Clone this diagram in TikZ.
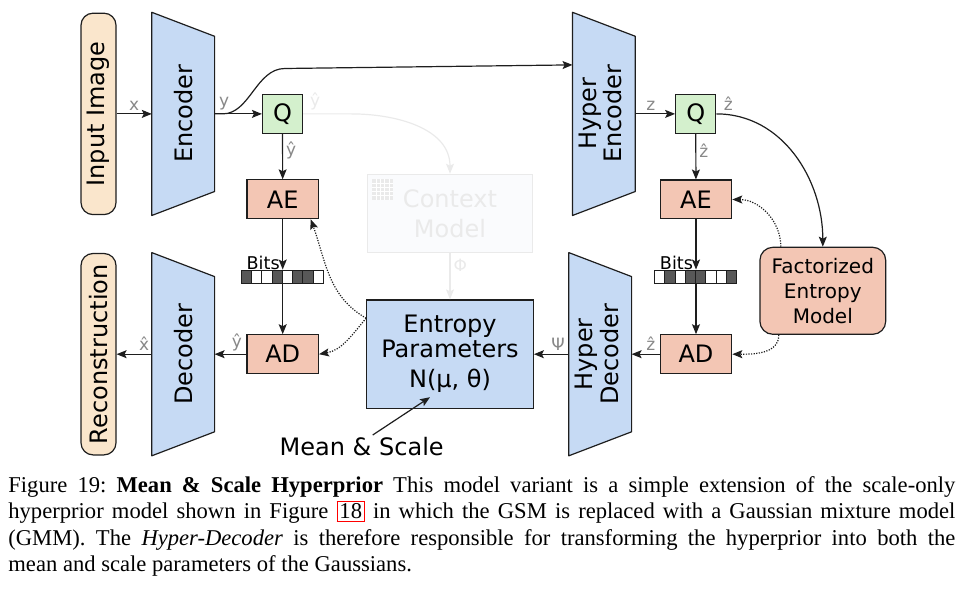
\documentclass[tikz,border=0pt]{standalone}
\usepackage{fontspec}
\setmainfont{Liberation Serif}
\newfontfamily\diagfont{DejaVu Sans}
\usepackage{graphicx}
\usepackage{tikz}
\usetikzlibrary{arrows.meta, positioning, calc, backgrounds}

\definecolor{peach1}{RGB}{250, 230, 204}
\definecolor{blue1}{RGB}{198, 218, 244}
\definecolor{green1}{RGB}{212, 240, 205}
\definecolor{salmon1}{RGB}{243, 198, 180}
\definecolor{gray1}{RGB}{136, 136, 136}
\definecolor{bitdark}{RGB}{88, 88, 88}
\definecolor{faint1}{RGB}{234, 234, 234}
\definecolor{faintfill}{RGB}{250, 251, 253}
\definecolor{edge1}{RGB}{30, 30, 30}

\tikzset{
  box/.style={draw=edge1, line width=0.6pt, inner sep=0pt, align=center},
  sidebox/.style={box, fill=peach1, rounded corners=6pt, minimum width=17.5pt, minimum height=100.7pt},
  trap/.style={inner sep=0pt, minimum width=31pt, minimum height=101.2pt, font=\diagfont\fontsize{12}{12.2}\selectfont},
  trapline/.style={draw=edge1, fill=blue1, line width=0.6pt, line join=round},
  qbox/.style={box, fill=green1, minimum width=20pt, minimum height=19.4pt},
  codebox/.style={box, fill=salmon1, minimum width=35.7pt, minimum height=19.4pt},
  bitbar/.style={inner sep=0pt, minimum width=41pt, minimum height=6.35pt},
  lbl/.style={text=gray1, font=\diagfont\fontsize{8.5}{9}\selectfont, inner sep=1.5pt},
  bitslbl/.style={font=\diagfont\fontsize{8.8}{9}\selectfont, inner sep=1.2pt, left, pos=0.86},
  arr/.style={-{Stealth[length=5pt, width=4pt, inset=1pt]}, line width=0.6pt, draw=edge1},
  dotarr/.style={arr, dash pattern=on 0.6pt off 0.7pt},
  faintarr/.style={-{Stealth[length=5pt, width=4pt, inset=1pt]}, line width=0.6pt, draw=faint1},
}

% blue trapezoid behind a named node
\newcommand{\trapbody}[1]{%
  \begin{pgfonlayer}{background}
    \draw[trapline] (#1.north west) -- ([yshift=-12pt]#1.north east)
      -- ([yshift=12pt]#1.south east) -- (#1.south west) -- cycle;
  \end{pgfonlayer}}

\begin{document}
\begin{tikzpicture}[x=0.5pt, y=0.5pt, font=\diagfont\fontsize{12}{12.5}\selectfont]
  \useasboundingbox (0,0) rectangle (967,-592);

  % main path
  \node[sidebox] (inimg) at (98.5,-113.9) {\rotatebox{90}{Input Image}};
  \node[trap] (enc) at (183.2,-113.9) {\rotatebox{90}{Encoder}};
  \trapbody{enc}
  \node[qbox] (q1) at (282.5,-113.9) {Q};
  \node[codebox] (ae1) at (282.7,-199.3) {AE};
  \node[bitbar] (bits1) at (282.7,-276.3) {};
  \node[codebox] (ad1) at (282.7,-354.2) {AD};
  \node[trap] (dec) at (183.2,-354.2) {\rotatebox{90}{Decoder}};
  \trapbody{dec}
  \node[sidebox] (recon) at (98.5,-354.2) {\rotatebox{90}{Reconstruction}};

  % context model (faded) and entropy parameters
  \node[box, draw=faint1, fill=faintfill, text=faint1, minimum width=82.7pt, minimum height=39pt,
        font=\diagfont\fontsize{12}{15}\selectfont] (ctx) at (450,-213.3) {Context\\Model};
  \fill[faint1] ([xshift=2.7pt, yshift=-2.85pt]ctx.north west) rectangle ++(10.6pt,-10.3pt);
  \foreach \k in {1,...,4} {
    \draw[white, line width=0.4pt] ([xshift=2.7pt+\k*2.12pt, yshift=-2.85pt]ctx.north west) -- ++(0pt,-10.3pt);
    \draw[white, line width=0.4pt] ([xshift=2.7pt, yshift=-2.85pt-\k*2.06pt]ctx.north west) -- ++(10.6pt,0pt);
  }
  \node[box, fill=blue1, minimum width=83.3pt, minimum height=54.2pt] (ep) at (450,-354.2)
    {Entropy\\Parameters\\[2.5pt]N(μ, θ)};
  \node[inner sep=1pt] (ms) at (361.7,-446.7) {Mean \& Scale};

  % hyperprior path
  \node[trap] (henc) at (603.9,-113.9) {\rotatebox{90}{\begin{tabular}{@{}c@{}}Hyper\\Encoder\end{tabular}}};
  \trapbody{henc}
  \node[qbox] (q2) at (695.7,-113.9) {Q};
  \node[codebox] (ae2) at (696,-199.5) {AE};
  \node[bitbar] (bits2) at (696,-276.3) {};
  \node[codebox] (ad2) at (696,-354.2) {AD};
  \node[trap] (hdec) at (600.2,-354.2) {\rotatebox{90}{\begin{tabular}{@{}c@{}}Hyper\\Decoder\end{tabular}}};
  \trapbody{hdec}
  \node[box, fill=salmon1, rounded corners=6.5pt, minimum width=62.9pt, minimum height=43.5pt,
        font=\diagfont\fontsize{10}{12.5}\selectfont] (fem) at (822.8,-290.8) {Factorized\\Entropy\\Model};

  % bit strings
  \foreach \c [count=\i from 0] in {bitdark,white,white,bitdark,white,bitdark,bitdark,white}
    \draw[fill=\c, draw=edge1, line width=0.5pt] ([xshift=\i*5.125pt]bits1.south west) rectangle ++(5.125pt,6.35pt);
  \foreach \c [count=\i from 0] in {white,bitdark,white,bitdark,bitdark,white,white,bitdark}
    \draw[fill=\c, draw=edge1, line width=0.5pt] ([xshift=\i*5.125pt]bits2.south west) rectangle ++(5.125pt,6.35pt);

  % connectors, main path
  \draw[arr] (inimg) -- node[lbl, above] (lx) {x} (enc);
  \draw[arr] (enc) -- node[lbl, above, pos=0.2] (ly) {y} (q1);
  \draw[arr] (enc.east) -- ++(8,0) .. controls (250,-113.9) and (256,-68.5) .. (285,-68.5)
    -- ([yshift=24.5pt]henc.west);
  \draw[faintarr] (q1.east) -- node[lbl, text=faint1, above, pos=0.25] (lyfaint) {ŷ} ++(48,0)
    to[out=0, in=90] (ctx);
  \draw[faintarr] (ctx) -- node[lbl, text=faint1, right, pos=0.27] (lphi) {Φ} (ep);
  \draw[arr] (q1) -- node[lbl, right, pos=0.36] (lyq) {ŷ} (ae1);
  \draw[arr] (ae1) -- node[bitslbl] (lbits1) {Bits} (bits1);
  \draw[arr] (bits1) -- (ad1);
  \draw[arr] (ad1) -- node[lbl, above, pos=0.3] (lyad) {ŷ} (dec);
  \draw[arr] (dec) -- node[lbl, above, pos=0.22] (lxhat) {x̂} (recon);
  \draw[dotarr] ([yshift=18pt]ep.west) to[out=150, in=-70] ([xshift=14pt]ae1.south);
  \draw[dotarr] ([yshift=18pt]ep.west) to[out=-130, in=10] (ad1.east);
  \draw[arr] ([xshift=5.5pt]ms.north) -- ([xshift=-10pt, yshift=-21.5pt]ep.center);

  % connectors, hyperprior path
  \draw[arr] (henc) -- node[lbl, above, pos=0.39] (lz) {z} (q2);
  \draw[arr] (q2) to[out=0, in=90] node[lbl, above right, pos=0.02] (lzq) {ẑ} (fem);
  \draw[arr] (q2) -- node[lbl, right, pos=0.36] (lzae) {ẑ} (ae2);
  \draw[arr] (ae2) -- node[bitslbl] (lbits2) {Bits} (bits2);
  \draw[arr] (bits2) -- (ad2);
  \draw[arr] (ad2) -- node[lbl, above, pos=0.32] (lzad) {ẑ} (hdec);
  \draw[arr] (hdec) -- node[lbl, above, pos=0.31] (lpsi) {Ψ} (ep);
  \draw[dotarr] ([xshift=-21pt]fem.north) to[out=90, in=0] (ae2.east);
  \draw[dotarr] ([xshift=-22pt]fem.south) to[out=-90, in=0] (ad2.east);

  % caption
  \node[anchor=north west, inner sep=0pt, align=left, font=\rmfamily\fontsize{11.3}{13.25}\selectfont\frenchspacing] (cap) at (8,-476) {%
    \hbox to 473.5pt{Figure 19: \textbf{Mean \& Scale Hyperprior} This model variant is a simple extension of the scale-only}\\
    \hbox to 473.5pt{hyperprior model shown in Figure {\fboxsep=0.8pt\fboxrule=0.6pt\color{red}\fbox{\color{black}18}} in which the GSM is replaced with a Gaussian mixture model}\\
    \hbox to 473.5pt{(GMM). The \textit{Hyper-Decoder} is therefore responsible for transforming the hyperprior into both the}\\
    mean and scale parameters of the Gaussians.};
\end{tikzpicture}
\end{document}
